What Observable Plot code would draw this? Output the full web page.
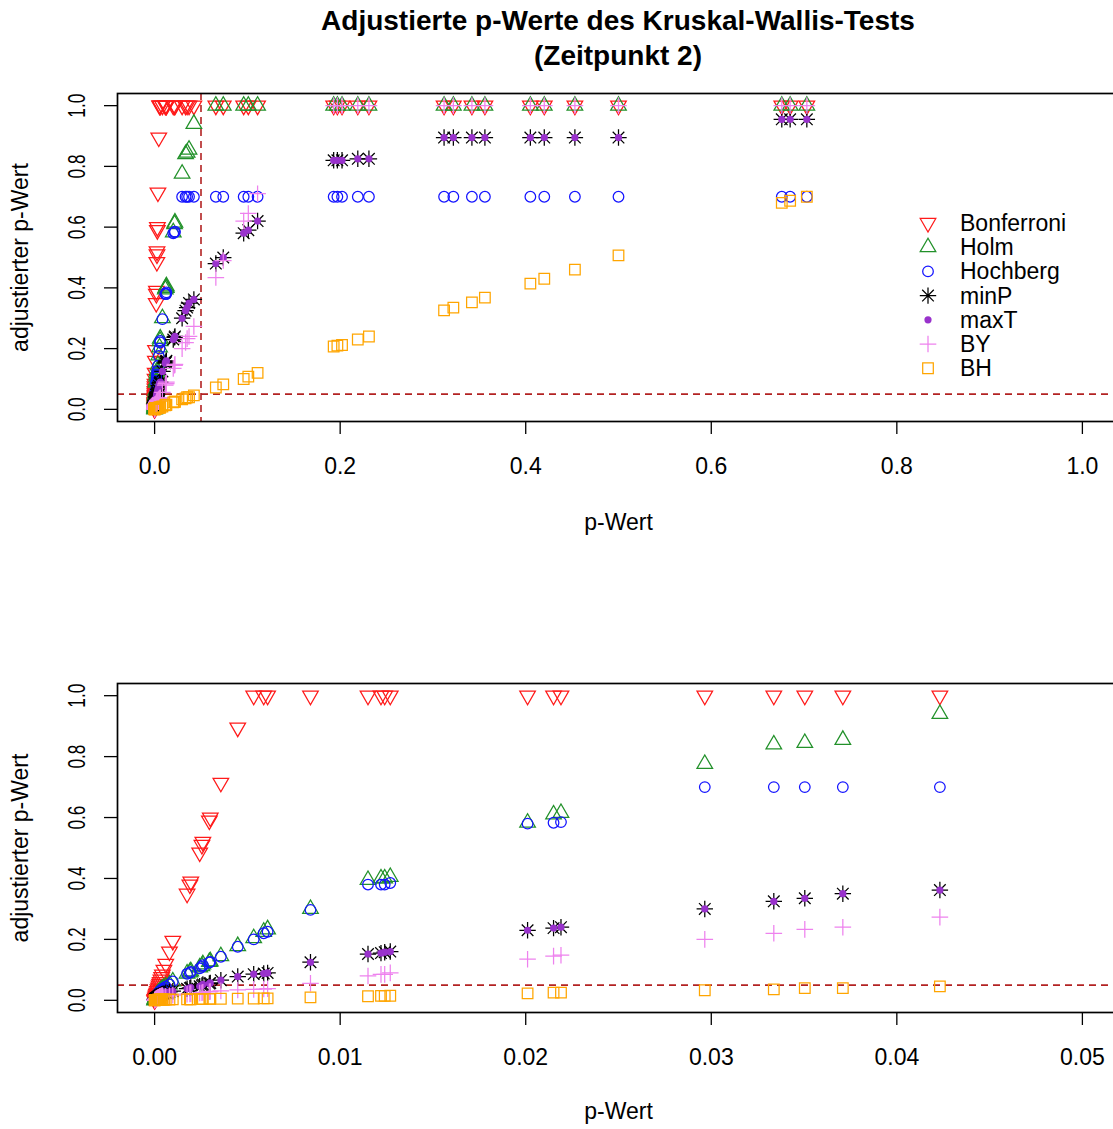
<!DOCTYPE html>
<html><head><meta charset="utf-8">
<script src="https://cdn.jsdelivr.net/npm/d3@7"></script>
<script src="https://cdn.jsdelivr.net/npm/@observablehq/plot@0.6"></script>
<style>
body{margin:0;background:#fff;font-family:"Liberation Sans",Arial,sans-serif;}
#wrap{position:relative;width:1113px;height:1129px;overflow:hidden;background:#fff;}
#title{position:absolute;left:117px;width:1002px;top:0;text-align:center;font-weight:bold;font-size:28px;line-height:35px;padding-top:3px;color:#000;}
#p1{position:absolute;left:0;top:75px;}
#p2{position:absolute;left:0;top:590px;}
#legend{position:absolute;left:900px;top:205px;}
</style></head><body>
<div id="wrap">
<div id="title">Adjustierte p-Werte des Kruskal-Wallis-Tests<br>(Zeitpunkt 2)</div>
<div id="p1"></div><div id="p2"></div>
<svg id="legend" width="213" height="185"></svg>
</div>
<script>
// ---- data ----
const pValues = [
  0, 0.00001, 0.00002, 0.00004, 0.00006, 0.00008, 0.0001, 0.00012, 0.00015, 0.00018, 0.00021, 0.00024, 0.00027, 0.0003, 0.00034, 0.00038, 0.00042,
  0.0005, 0.0006, 0.0008, 0.00098, 0.00175, 0.0019, 0.00195, 0.00243, 0.00255, 0.0026, 0.00295, 0.003, 0.00357, 0.00448,
  0.00534, 0.00588, 0.00609, 0.0084, 0.0115, 0.0122, 0.0124, 0.0127, 0.0201, 0.0215, 0.0219,
  0.02965, 0.03337, 0.03504, 0.03709, 0.04232,
  0.066, 0.074, 0.096, 0.101, 0.111, 0.193, 0.197, 0.202, 0.219, 0.231, 0.312, 0.322, 0.342, 0.356, 0.405, 0.42, 0.453, 0.5, 0.676, 0.685, 0.703
];
const bonferroni = [
  0, 0.002, 0.004, 0.008, 0.012, 0.016, 0.02, 0.024, 0.03, 0.036, 0.042, 0.048, 0.054, 0.06, 0.068, 0.076, 0.084,
  0.10, 0.12, 0.16, 0.195, 0.35, 0.38, 0.39, 0.485, 0.51, 0.52, 0.59, 0.60, 0.714, 0.895,
  1, 1, 1, 1, 1, 1, 1, 1, 1, 1, 1,
  1, 1, 1, 1, 1,
  1, 1, 1, 1, 1, 1, 1, 1, 1, 1, 1, 1, 1, 1, 1, 1, 1, 1, 1, 1, 1
];
const holm = [
  0, 0.002, 0.004, 0.007, 0.01, 0.013, 0.015, 0.017, 0.02, 0.022, 0.024, 0.026, 0.028, 0.03, 0.032, 0.035, 0.037,
  0.04, 0.045, 0.052, 0.062, 0.088, 0.092, 0.095, 0.108, 0.112, 0.118, 0.126, 0.128, 0.145, 0.178,
  0.204, 0.225, 0.233, 0.30, 0.395, 0.40, 0.40, 0.405, 0.583, 0.61, 0.615,
  0.776, 0.84, 0.845, 0.855, 0.94,
  1, 1, 1, 1, 1, 1, 1, 1, 1, 1, 1, 1, 1, 1, 1, 1, 1, 1, 1, 1, 1
];
const hochberg = [
  0, 0.002, 0.004, 0.007, 0.01, 0.013, 0.015, 0.017, 0.02, 0.022, 0.024, 0.026, 0.028, 0.03, 0.032, 0.035, 0.037,
  0.04, 0.045, 0.052, 0.062, 0.087, 0.09, 0.093, 0.105, 0.11, 0.115, 0.124, 0.126, 0.143, 0.176,
  0.20, 0.22, 0.225, 0.297, 0.38, 0.38, 0.38, 0.385, 0.58, 0.583, 0.585,
  0.70, 0.70, 0.70, 0.70, 0.70,
  0.70, 0.70, 0.70, 0.70, 0.70, 0.70, 0.70, 0.70, 0.70, 0.70, 0.70, 0.70, 0.70, 0.70, 0.70, 0.70, 0.70, 0.70, 0.70, 0.70, 0.70
];
const minP = [
  0.002, 0.003, 0.004, 0.005, 0.006, 0.007, 0.008, 0.009, 0.01, 0.011, 0.013, 0.014, 0.015, 0.017, 0.018, 0.02, 0.021,
  0.022, 0.025, 0.028, 0.03, 0.038, 0.04, 0.042, 0.046, 0.049, 0.052, 0.055, 0.057, 0.066, 0.078,
  0.086, 0.088, 0.09, 0.125, 0.152, 0.155, 0.158, 0.16, 0.23, 0.237, 0.24,
  0.30, 0.325, 0.335, 0.35, 0.362,
  0.48, 0.50, 0.58, 0.59, 0.62, 0.82, 0.82, 0.82, 0.825, 0.825, 0.895, 0.895, 0.895, 0.895, 0.895, 0.895, 0.895, 0.895, 0.955, 0.955, 0.955
];
const maxT = [
  0.002, 0.003, 0.004, 0.005, 0.006, 0.007, 0.008, 0.009, 0.01, 0.011, 0.013, 0.014, 0.015, 0.017, 0.018, 0.02, 0.021,
  0.022, 0.025, 0.028, 0.03, 0.038, 0.04, 0.042, 0.046, 0.049, 0.052, 0.055, 0.057, 0.066, 0.078,
  0.086, 0.088, 0.09, 0.125, 0.152, 0.155, 0.158, 0.16, 0.23, 0.237, 0.24,
  0.30, 0.325, 0.335, 0.35, 0.362,
  0.48, 0.50, 0.58, 0.59, 0.62, 0.82, 0.82, 0.82, 0.825, 0.825, 0.895, 0.895, 0.895, 0.895, 0.895, 0.895, 0.895, 0.895, 0.955, 0.955, 0.955
];
const by = [
  0, 0.001, 0.002, 0.003, 0.004, 0.005, 0.006, 0.007, 0.008, 0.009, 0.01, 0.011, 0.012, 0.013, 0.014, 0.015, 0.016,
  0.012, 0.013, 0.015, 0.017, 0.02, 0.021, 0.022, 0.024, 0.025, 0.026, 0.028, 0.029, 0.031, 0.034,
  0.036, 0.037, 0.038, 0.056, 0.08, 0.085, 0.085, 0.09, 0.135, 0.145, 0.148,
  0.20, 0.22, 0.233, 0.24, 0.273,
  0.434, 0.49, 0.62, 0.645, 0.71, 1, 1, 1, 1, 1, 1, 1, 1, 1, 1, 1, 1, 1, 1, 1, 1
];
const bh = [
  0, 0.0002, 0.0004, 0.0006, 0.0008, 0.001, 0.0012, 0.0014, 0.0016, 0.0018, 0.002, 0.0022, 0.0024, 0.0026, 0.0028, 0.003, 0.0032,
  0.002, 0.0022, 0.0025, 0.003, 0.003, 0.0035, 0.0035, 0.004, 0.004, 0.0042, 0.0045, 0.0046, 0.005, 0.0056,
  0.006, 0.0062, 0.0064, 0.0095, 0.0135, 0.0145, 0.0145, 0.015, 0.023, 0.025, 0.025,
  0.033, 0.036, 0.04, 0.04, 0.046,
  0.072, 0.082, 0.10, 0.108, 0.12, 0.207, 0.21, 0.212, 0.23, 0.24, 0.326, 0.335, 0.352, 0.368, 0.414, 0.43, 0.46, 0.507, 0.68, 0.687, 0.70
];
const methodNames = ["Bonferroni", "Holm", "Hochberg", "minP", "maxT", "BY", "BH"];
const methodValues = [bonferroni, holm, hochberg, minP, maxT, by, bh];
const yTicks = [0, 0.2, 0.4, 0.6, 0.8, 1.0];
const xTicksTop = [0, 0.2, 0.4, 0.6, 0.8, 1.0];
const xTicksBottom = [0, 0.01, 0.02, 0.03, 0.04, 0.05];

// ---- symbols (R pch look-alikes) ----
const unit = s => Math.sqrt(s / Math.PI);
const symTriDown = {draw(c, s) { const w = unit(s); c.moveTo(-w, -0.5774 * w); c.lineTo(w, -0.5774 * w); c.lineTo(0, 1.1547 * w); c.closePath(); }};
const symTriUp = {draw(c, s) { const w = unit(s); c.moveTo(-w, 0.5774 * w); c.lineTo(w, 0.5774 * w); c.lineTo(0, -1.1547 * w); c.closePath(); }};
const symAst = {draw(c, s) { const a = unit(s), b = a / Math.SQRT2; c.moveTo(-a, 0); c.lineTo(a, 0); c.moveTo(0, -a); c.lineTo(0, a); c.moveTo(-b, -b); c.lineTo(b, b); c.moveTo(-b, b); c.lineTo(b, -b); }};
const symPlus = {draw(c, s) { const a = unit(s); c.moveTo(-a, 0); c.lineTo(a, 0); c.moveTo(0, -a); c.lineTo(0, a); }};
const symSquare = {draw(c, s) { const a = unit(s); c.rect(-a, -a, 2 * a, 2 * a); }};
const symCircle = {draw(c, s) { const a = unit(s); c.moveTo(a, 0); c.arc(0, 0, a, 0, 2 * Math.PI); }};

const styles = {
  Bonferroni: {symbol: symTriDown, r: 7.8, stroke: "#FF1A1A", fill: "none"},
  Holm: {symbol: symTriUp, r: 7.8, stroke: "#22912A", fill: "none"},
  Hochberg: {symbol: symCircle, r: 5.3, stroke: "#1414FF", fill: "none"},
  minP: {symbol: symAst, r: 8.2, stroke: "#000000", fill: "none"},
  maxT: {symbol: symCircle, r: 3.6, stroke: "none", fill: "#9932CC"},
  BY: {symbol: symPlus, r: 8.3, stroke: "#EE82EE", fill: "none"},
  BH: {symbol: symSquare, r: 5.3, stroke: "#FFA500", fill: "none"}
};

const rows = methodNames.flatMap((m, i) => pValues.map((p, j) => ({method: m, p, adj: methodValues[i][j]})));

const FONT = "'Liberation Sans', Arial, sans-serif";

function panel({xDomain, xTicks, fmt, height, marginTop, marginBottom, vline, titleDy}) {
  const marks = [];
  marks.push(Plot.ruleY([0.05], {stroke: "#B22222", strokeWidth: 1.6, strokeDasharray: "7,5"}));
  if (vline) marks.push(Plot.ruleX([0.05], {stroke: "#B22222", strokeWidth: 1.6, strokeDasharray: "7,5"}));
  for (const m of methodNames) {
    const st = styles[m];
    marks.push(Plot.dot(rows.filter(d => d.method === m && d.p <= xDomain[1]), {
      x: "p", y: "adj", symbol: st.symbol, r: st.r, stroke: st.stroke, fill: st.fill, strokeWidth: 1.25, clip: true
    }));
  }
  marks.push(Plot.frame({stroke: "#000", strokeWidth: 1.7}));
  marks.push(Plot.axisX({ticks: xTicks, tickFormat: fmt, tickSize: 13, tickPadding: 23, label: null, fontSize: 23, stroke: "#000", strokeWidth: 1.3}));
  marks.push(Plot.axisY({ticks: yTicks, tickFormat: d3.format(".1f"), tickSize: 13, tickPadding: 20, tickRotate: -90, label: null, fontSize: 23, stroke: "#000", strokeWidth: 1.3}));
  marks.push(Plot.text(["p-Wert"], {frameAnchor: "bottom", dy: titleDy, fontSize: 23, fill: "#000"}));
  marks.push(Plot.text(["adjustierter p-Wert"], {frameAnchor: "left", textAnchor: "middle", dx: -97, rotate: -90, fontSize: 23, fill: "#000"}));
  const svg = Plot.plot({
    width: 1113, height, marginLeft: 117, marginRight: -6, marginTop, marginBottom,
    x: {domain: xDomain}, y: {domain: [-0.04, 1.04]},
    style: {fontFamily: FONT, fontSize: "23px", background: "white", color: "#000"},
    marks
  });
  d3.select(svg).selectAll('g[aria-label="y-axis tick label"] text')
    .attr("textLength", 24).attr("lengthAdjust", "spacingAndGlyphs");
  return svg;
}

document.getElementById("p1").appendChild(panel({
  xDomain: [-0.04, 1.04], xTicks: xTicksTop, fmt: d3.format(".1f"),
  height: 515, marginTop: 18, marginBottom: 169, vline: true, titleDy: 108
}));
document.getElementById("p2").appendChild(panel({
  xDomain: [-0.002, 0.052], xTicks: xTicksBottom, fmt: d3.format(".2f"),
  height: 539, marginTop: 93, marginBottom: 117, vline: false, titleDy: 106
}));

// ---- legend ----
const lg = d3.select("#legend");
methodNames.forEach((m, i) => {
  const st = styles[m];
  const y = 18 + 24.2 * i;
  lg.append("path")
    .attr("d", d3.symbol(st.symbol, st.r * st.r * Math.PI)())
    .attr("transform", `translate(28,${y})`)
    .attr("fill", st.fill).attr("stroke", st.stroke).attr("stroke-width", 1.25);
  lg.append("text").attr("x", 60).attr("y", y).attr("dy", "0.35em")
    .attr("font-family", FONT).attr("font-size", 23).attr("fill", "#000").text(m);
});
</script>
</body></html>
